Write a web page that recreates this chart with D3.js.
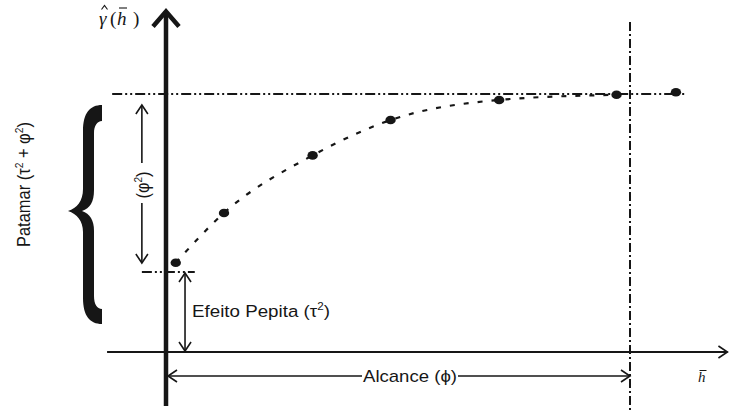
<!DOCTYPE html>
<html>
<head>
<meta charset="utf-8">
<script src="https://cdn.jsdelivr.net/npm/d3@7"></script>
<style>
  html, body { margin: 0; padding: 0; background: #fff; }
  svg { display: block; }
</style>
</head>
<body>
<svg id="chart" width="729" height="412"></svg>
<script>
// Experimental semivariogram: lag distance vs. semivariance
const lags         = [2.1, 12.5, 31.6, 48.4, 71.8, 97.1, 109.9];
const semivariance = [34.6, 53.9, 76.2, 89.9, 97.7, 99.7, 100.7];
const nugget = 31;      // τ²
const sill = 100;       // τ² + φ²
const rangeLag = 100;   // φ

const labelNugget  = ["Efeito Pepita (τ", "2", ")"];
const labelRange   = "Alcance (ϕ)";
const labelSill    = ["Patamar (τ", "2", " + φ", "2", ")"];
const labelPartial = ["(φ", "2", ")"];

const ink = "#161616";
const svg = d3.select("#chart");

const x = d3.scaleLinear().domain([0, 100]).range([166, 630]);
const y = d3.scaleLinear().domain([0, 100]).range([352, 94]);

const xExtent = [-12.7, 121];
const yExtent = [-20.9, 132];

const dashDotDot = "10,3,2,3,2,3";
const dashDot = "9,3,2,3";

function line(x1, y1, x2, y2, w, dash) {
  return svg.append("line")
    .attr("x1", x1).attr("y1", y1).attr("x2", x2).attr("y2", y2)
    .attr("stroke", ink).attr("stroke-width", w)
    .attr("stroke-dasharray", dash || null);
}
function chevron(px, py, dx, dy, w) {
  // open arrowhead with tip at (px,py); (dx,dy) points back along the shaft
  const nx = -dy, ny = dx;
  const len = Math.hypot(dx, dy);
  const ux = dx / len, uy = dy / len;
  const b = 9, s = 6;
  return svg.append("path")
    .attr("d", `M${px + ux*b + (nx/len)*s},${py + uy*b + (ny/len)*s} L${px},${py} L${px + ux*b - (nx/len)*s},${py + uy*b - (ny/len)*s}`)
    .attr("fill", "none").attr("stroke", ink).attr("stroke-width", w)
    .attr("stroke-linejoin", "miter");
}

// Horizontal axis (lag)
line(x(xExtent[0]), y(0), x(xExtent[1]), y(0), 2);
chevron(x(xExtent[1]), y(0), -1, 0, 1.6);

// Reference lines: sill, range, nugget
line(x(-11.6), y(sill), x(112.3), y(sill), 2, dashDotDot);
line(x(rangeLag), y(127.9), x(rangeLag), y(-24), 2, dashDot);
line(x(-5.2), y(nugget), x(6.2), y(nugget), 2, dashDotDot);

// Vertical axis (semivariance), heavy with open arrowhead
line(x(0), y(yExtent[0]), x(0), y(yExtent[1]), 4.5);
svg.append("path")
  .attr("d", `M${x(0) - 13},${y(yExtent[1]) + 15} L${x(0)},${y(yExtent[1])} L${x(0) + 13},${y(yExtent[1]) + 15}`)
  .attr("fill", "none").attr("stroke", ink).attr("stroke-width", 4.5)
  .attr("stroke-linejoin", "miter");

// Fitted model curve through the experimental points
const pts = lags.map((h, i) => [h, semivariance[i]]);
svg.append("path")
  .attr("d", d3.line().x(d => x(d[0])).y(d => y(d[1])).curve(d3.curveMonotoneX)(pts.slice(0, 6)))
  .attr("fill", "none").attr("stroke", ink).attr("stroke-width", 2.2)
  .attr("stroke-dasharray", "5,9");

svg.selectAll("ellipse.pt").data(pts).join("ellipse")
  .attr("class", "pt")
  .attr("cx", d => x(d[0])).attr("cy", d => y(d[1]))
  .attr("rx", 5.2).attr("ry", 4.3).attr("fill", ink);

// Nugget arrow
const xn = x(4.1);
line(xn, y(nugget) + 1, xn, y(0) - 1, 1.6);
chevron(xn, y(nugget) + 1, 0, 1, 1.6);
chevron(xn, y(0) - 1, 0, -1, 1.6);

// Partial sill arrow (split around its label)
const xs = x(-5.2);
const midS = 185;
line(xs, y(sill) + 11, xs, midS - 22, 1.6);
line(xs, midS + 18, xs, y(nugget) - 9, 1.6);
chevron(xs, y(sill) + 11, 0, 1, 1.6);
chevron(xs, y(nugget) - 9, 0, -1, 1.6);

// Range arrow (split around its label)
const yr = y(-9.3);
line(x(0) + 2, yr, 362, yr, 1.6);
line(458, yr, x(rangeLag), yr, 1.6);
chevron(x(0) + 2, yr, 1, 0, 1.6);
chevron(x(rangeLag), yr, -1, 0, 1.6);

// Text helper: fits the label to a given length along its direction
function fittedText(parts, opts) {
  const g = svg.append("g");
  const t = g.append("text")
    .attr("font-family", opts.family || "Liberation Sans, Arial, sans-serif")
    .attr("font-size", opts.size).attr("fill", ink)
    .attr("text-anchor", opts.anchor || "start");
  if (opts.central) t.attr("dy", "0.35em");
  parts.forEach((p, i) => {
    const sup = i % 2 === 1;
    t.append("tspan")
      .attr("font-size", sup ? opts.size * 0.62 : null)
      .attr("dy", sup ? -opts.size * 0.4 : (i > 0 ? opts.size * 0.4 : null))
      .text(p);
  });
  const w = t.node().getBBox().width;
  const sx = opts.length / w;
  g.attr("transform", `translate(${opts.x},${opts.y}) rotate(${opts.rotate || 0}) scale(${sx},1)`);
  return g;
}

fittedText(labelNugget, { x: 192, y: 317, size: 17, length: 138 });
fittedText([labelRange], { x: 363, y: 381.5, size: 16, length: 94 });
fittedText(labelSill, { x: 30, y: 247, size: 18.5, length: 125, rotate: -90 });
fittedText(labelPartial, { x: xs + 1, y: midS, size: 18, length: 27, rotate: -90, anchor: "middle", central: true });

// Curly brace spanning the sill
function brace(tipX, top, bottom, mid) {
  const o = tipX - 19, i = tipX - 8, p = tipX - 34, n = tipX - 20;
  return `M${tipX},${top} C${tipX - 12},${top} ${o},${top + 8} ${o},${top + 26}
    L${o},${mid - 22} C${o},${mid - 10} ${o - 6},${mid - 3} ${p},${mid}
    C${o - 6},${mid + 3} ${o},${mid + 10} ${o},${mid + 21}
    L${o},${bottom - 26} C${o},${bottom - 8} ${tipX - 12},${bottom} ${tipX},${bottom}
    L${tipX},${bottom - 15} C${tipX - 5},${bottom - 15} ${i},${bottom - 20} ${i},${bottom - 28}
    L${i},${mid + 20} C${i},${mid + 9} ${tipX - 12},${mid + 3} ${n},${mid}
    C${tipX - 12},${mid - 3} ${i},${mid - 9} ${i},${mid - 21}
    L${i},${top + 28} C${i},${top + 21} ${tipX - 5},${top + 16} ${tipX},${top + 16} Z`;
}
svg.append("path").attr("d", brace(102, 105, 324, 211)).attr("fill", ink);

// Axis titles
const serif = "Liberation Serif, Times New Roman, serif";
const gy = svg.append("text").attr("font-family", serif).attr("font-size", 19).attr("fill", ink);
gy.append("tspan").attr("x", 99).attr("y", 25).attr("font-style", "italic").text("γ");
gy.append("tspan").attr("x", 110).attr("y", 25).text("(");
gy.append("tspan").attr("x", 117).attr("y", 25).attr("font-style", "italic").text("h");
gy.append("tspan").attr("x", 133).attr("y", 25).text(")");
svg.append("path").attr("d", "M101.5,9.5 L104.5,5.5 L107.5,9.5")
  .attr("fill", "none").attr("stroke", ink).attr("stroke-width", 1.1);
line(119, 8, 127, 8, 1.1);

svg.append("text").attr("font-family", serif).attr("font-size", 15).attr("font-style", "italic")
  .attr("fill", ink).attr("x", 698).attr("y", 382).text("h");
line(699.5, 370.5, 706.5, 370.5, 1);
</script>
</body>
</html>
